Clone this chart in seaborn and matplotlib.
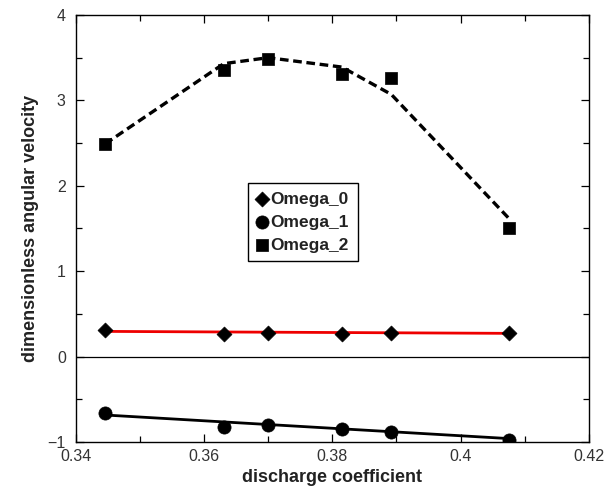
import matplotlib
matplotlib.use("Agg")
import matplotlib.pyplot as plt
import seaborn as sns
import pandas as pd
from matplotlib.ticker import MultipleLocator, FixedLocator, FixedFormatter

# Measured discharge coefficients
discharge = [0.3446, 0.3631, 0.3700, 0.3815, 0.3892, 0.4075]

# Dimensionless angular velocity components
omega_0 = [0.31, 0.27, 0.28, 0.27, 0.275, 0.28]
omega_1 = [-0.665, -0.82, -0.805, -0.845, -0.885, -0.975]
omega_2 = [2.485, 3.36, 3.49, 3.31, 3.26, 1.50]

# Fitted curves
omega_2_fit = [2.49, 3.43, 3.50, 3.39, 3.07, 1.62]
fit_x = [0.3446, 0.4075]
omega_0_fit = [0.295, 0.272]
omega_1_fit = [-0.684, -0.96]

# Axis ticks
x_ticks = [0.34, 0.36, 0.38, 0.40, 0.42]
x_tick_labels = ["0.34", "0.36", "0.38", "0.4", "0.42"]
y_ticks = [-1, 0, 1, 2, 3, 4]
y_tick_labels = ["\u22121", "0", "1", "2", "3", "4"]

sns.set_style("ticks", {
    "xtick.direction": "in",
    "ytick.direction": "in",
    "axes.edgecolor": "black",
})
plt.rcParams["font.family"] = ["Liberation Sans", "DejaVu Sans"]

fig = plt.figure(figsize=(6.07, 4.96), dpi=100)
ax = fig.add_axes([0.1244, 0.1089, 0.8459, 0.8609])

pts = pd.DataFrame({"x": discharge, "o0": omega_0, "o1": omega_1,
                    "o2": omega_2, "o2fit": omega_2_fit})
fits = pd.DataFrame({"x": fit_x, "o0": omega_0_fit, "o1": omega_1_fit})

ax.axhline(0, color="black", lw=0.9, zorder=1)

sns.lineplot(data=pts, x="x", y="o2fit", ax=ax, color="black", lw=2.4,
             legend=False, zorder=2)
ax.lines[-1].set_dashes((2.6, 1.4))
sns.lineplot(data=fits, x="x", y="o0", ax=ax, color="#ee0000", lw=2.0,
             legend=False, zorder=2)
sns.lineplot(data=fits, x="x", y="o1", ax=ax, color="black", lw=2.0,
             legend=False, zorder=2)

sns.scatterplot(data=pts, x="x", y="o0", ax=ax, marker="D", s=58,
                color="black", edgecolor="black", linewidth=0.5,
                label="Omega_0", zorder=3)
sns.scatterplot(data=pts, x="x", y="o1", ax=ax, marker="o", s=90,
                color="black", edgecolor="black", linewidth=0.5,
                label="Omega_1", zorder=3)
sns.scatterplot(data=pts, x="x", y="o2", ax=ax, marker="s", s=64,
                color="black", edgecolor="black", linewidth=0.5,
                label="Omega_2", zorder=3)

ax.set_xlim(0.34, 0.42)
ax.set_ylim(-1, 4)
ax.xaxis.set_major_locator(FixedLocator(x_ticks))
ax.xaxis.set_major_formatter(FixedFormatter(x_tick_labels))
ax.yaxis.set_major_locator(FixedLocator(y_ticks))
ax.yaxis.set_major_formatter(FixedFormatter(y_tick_labels))
ax.xaxis.set_minor_locator(MultipleLocator(0.01))
ax.yaxis.set_minor_locator(MultipleLocator(0.5))

for side in ["top", "right", "left", "bottom"]:
    ax.spines[side].set_visible(True)
    ax.spines[side].set_linewidth(1.0)

ax.tick_params(which="both", direction="in", top=True, right=True,
               color="black", width=0.9)
ax.tick_params(which="major", length=6)
ax.tick_params(which="minor", length=4)
ax.tick_params(axis="x", which="major", labelsize=11.5, labelcolor="#333333", pad=5)
ax.tick_params(axis="y", which="major", labelsize=11.5, labelcolor="#333333", pad=7)

ax.set_xlabel("discharge coefficient", fontsize=13, fontweight="bold",
              color="#222222", labelpad=4)
ax.set_ylabel("dimensionless angular velocity", fontsize=13, fontweight="bold",
              color="#222222", labelpad=6)

leg = ax.legend(loc="upper left", bbox_to_anchor=(0.336, 0.607),
                frameon=True, fancybox=False, edgecolor="black",
                framealpha=1, borderpad=0.5, labelspacing=0.45,
                handlelength=0.6, handletextpad=0.2, borderaxespad=0,
                prop={"size": 12.5, "weight": "bold"})
leg.get_frame().set_linewidth(1.0)
for t in leg.get_texts():
    t.set_color("#222222")

fig.savefig("out.png", dpi=100)
